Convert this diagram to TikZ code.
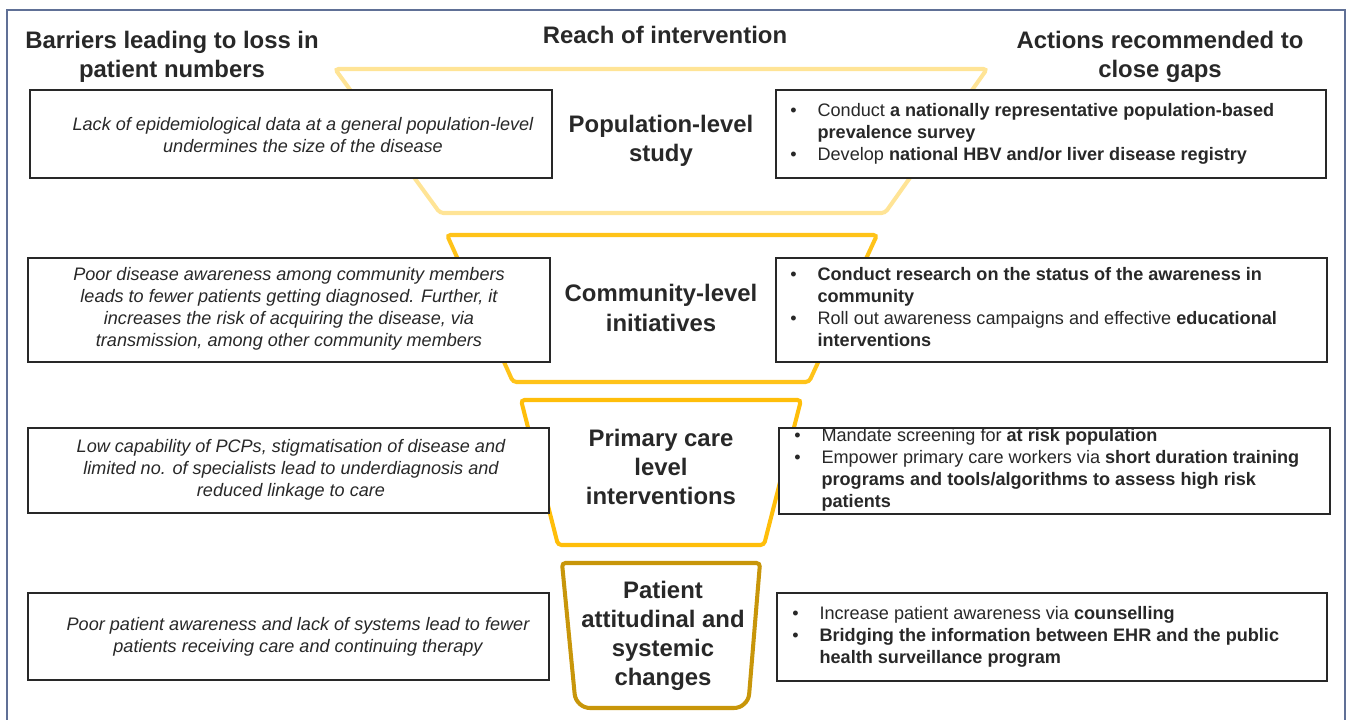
\documentclass[tikz,border=0pt]{standalone}
\usepackage{fontspec}
\setmainfont{Liberation Sans}
\usetikzlibrary{positioning}
\definecolor{paleyel}{RGB}{255,228,150}
\definecolor{midyel}{RGB}{255,195,25}
\definecolor{deepyel}{RGB}{255,190,10}
\definecolor{goldyel}{RGB}{200,150,10}
\definecolor{framec}{RGB}{96,112,150}
\definecolor{inkc}{RGB}{40,40,40}
\def\funnel{\draw[line width=2.3pt,rounded corners=2pt]}
\def\gapbox{\draw[line width=1.3pt,draw=inkc,fill=white]}
\def\gaplist#1{\begin{tabular}{@{}p{15.5pt}@{}l@{}}#1\end{tabular}}

\begin{document}
\begin{tikzpicture}[x=0.02cm,y=-0.02cm,text=inkc,
    head/.style={font=\bfseries\fontsize{13.6}{16.6}\selectfont,align=center},
    barrier/.style={font=\itshape\fontsize{10.3}{12.5}\selectfont,align=center},
    action/.style={font=\fontsize{10.3}{12.5}\selectfont,anchor=west,inner sep=0pt}]
    \useasboundingbox (0,0) rectangle (1349,720);
    \draw[framec,line width=0.8pt] (7,740) -- (7,10) -- (1345,10) -- (1345,740);

    % funnel
    \funnel[paleyel] (335,69) -- (987,69) -- (885,213) -- (440,213) -- cycle;
    \funnel[midyel]  (447,235) -- (877,235) -- (809,382) -- (513,382) -- cycle;
    \funnel[deepyel] (521,400) -- (801,400) -- (764,545) -- (558,545) -- cycle;
    \funnel[goldyel] (562,563) -- (760,563) [rounded corners=8pt] -- (748,708) -- (576,708) [rounded corners=2pt] -- cycle;

    % boxes
    \gapbox (30,90) rectangle (552,178);
    \gapbox (28,258) rectangle (550,362);
    \gapbox (28,428) rectangle (549,513);
    \gapbox (28,593) rectangle (549,680);
    \gapbox (776,90) rectangle (1326,178);
    \gapbox (776,258) rectangle (1327,362);
    \gapbox (779,428) rectangle (1330,514);
    \gapbox (777,593) rectangle (1327,681);

    % headings
    \node[head] (barhead) at (172,57) {Barriers leading to loss in\\patient numbers};
    \node[head] (reachhead) at (665,35) {Reach of intervention};
    \node[head] (acthead) at (1160,57) {Actions recommended to\\close gaps};

    % levels
    \node[head] (popl) at (661,141) {Population-level\\study};
    \node[head] (comml) at (661,308) {Community-level\\initiatives};
    \node[head] (priml) at (661,467) {Primary care\\level\\interventions};
    \node[head] (patl) at (663,636) {Patient\\attitudinal and\\systemic\\changes};

    % barriers
    \node[barrier] (popbar) at (303,135) {Lack of epidemiological data at a general population-level\\undermines the size of the disease};
    \node[barrier] (commbar) at (289,309) {Poor disease awareness among community members\\leads to fewer patients getting diagnosed. Further, it\\increases the risk of acquiring the disease, via\\transmission, among other community members};
    \node[barrier] (primbar) at (291,470) {Low capability of PCPs, stigmatisation of disease and\\limited no. of specialists lead to underdiagnosis and\\reduced linkage to care};
    \node[barrier] (patbar) at (298,637) {Poor patient awareness and lack of systems lead to fewer\\patients receiving care and continuing therapy};

    % actions
    \node[action] (popact) at (790,134) {\gaplist{%
        • & Conduct \textbf{a nationally representative population-based}\\
          & \textbf{prevalence survey}\\
        • & Develop \textbf{national HBV and/or liver disease registry}}};
    \node[action] (commact) at (790,309) {\gaplist{%
        • & \textbf{Conduct research on the status of the awareness in}\\
          & \textbf{community}\\
        • & Roll out awareness campaigns and effective \textbf{educational}\\
          & \textbf{interventions}}};
    \node[action] (primact) at (794,470) {\gaplist{%
        • & Mandate screening for \textbf{at risk population}\\
        • & Empower primary care workers via \textbf{short duration training}\\
          & \textbf{programs and tools/algorithms to assess high risk}\\
          & \textbf{patients}}};
    \node[action] (patact) at (792,637) {\gaplist{%
        • & Increase patient awareness via \textbf{counselling}\\
        • & \textbf{Bridging the information between EHR and the public}\\
          & \textbf{health surveillance program}}};
\end{tikzpicture}
\end{document}
